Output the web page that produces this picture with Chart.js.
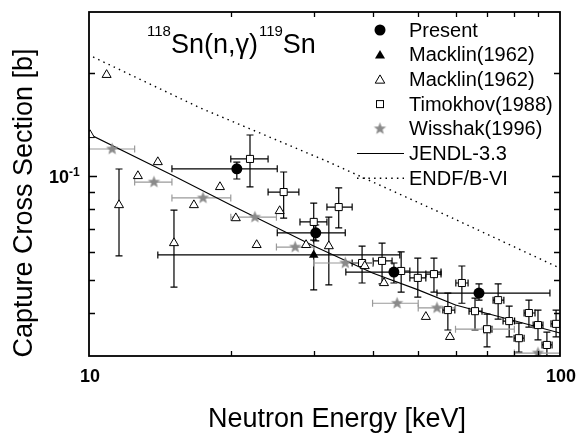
<!DOCTYPE html>
<html>
<head>
<meta charset="utf-8">
<script src="https://cdn.jsdelivr.net/npm/chart.js@4.4.1/dist/chart.umd.min.js"></script>
<style>
  html, body { margin: 0; padding: 0; background: #fff; }
  canvas { display: block; }
</style>
</head>
<body>
<canvas id="chart" width="581" height="434" style="width:581px;height:434px"></canvas>
<script>
// Present
const presentE = [20.6, 30.3, 44.4, 67.3];
const presentXS = [0.105, 0.0684, 0.0526, 0.0457];
const presentElo = [15.0, 25.1, 35.1, 54.8];
const presentEhi = [25.1, 35.0, 55.9, 95.2];
const presentXSlo = [0.0981, 0.0648, 0.0489, 0.0436];
const presentXShi = [0.1099, 0.0721, 0.0559, 0.0486];

// Macklin(1962), filled triangle
const macklinAE = [30.0];
const macklinAXS = [0.059];
const macklinAElo = [14.0];
const macklinAEhi = [45.7];
const macklinAXSlo = [0.0467];
const macklinAXShi = [0.0721];

// Macklin(1962), open triangles (null = no error bar)
const macklinBE = [10.05, 10.9, 11.58, 12.7, 14.0, 15.15, 16.7, 18.97, 20.5, 22.7, 25.4, 28.9, 32.3, 38.5, 42.3, 51.9, 58.4];
const macklinBXS = [0.1317, 0.197, 0.0824, 0.1001, 0.1099, 0.0639, 0.0824, 0.0930, 0.0755, 0.0631, 0.0792, 0.0631, 0.0626, 0.0548, 0.0489, 0.0390, 0.0341];
const macklinBXSlo = [null, null, 0.0586, null, null, 0.0476, null, null, null, null, null, null, 0.0483, null, null, null, null];
const macklinBXShi = [null, null, 0.1049, null, null, 0.0797, null, null, null, null, null, null, 0.0760, null, null, null, null];

// Timokhov(1988)
const timokhovE = [21.97, 25.9, 33.9, 30.0, 38.0, 41.9, 46.0, 49.9, 54.0, 61.9, 57.8, 66.0, 70.0, 73.9, 78.0, 81.8, 85.9, 89.8, 93.8, 98.1];
const timokhovXS = [0.1122, 0.0899, 0.0813, 0.0736, 0.0559, 0.0567, 0.0530, 0.0506, 0.0519, 0.0489, 0.0408, 0.0405, 0.0359, 0.0436, 0.0379, 0.0338, 0.0400, 0.0369, 0.0323, 0.0372];
const timokhovElo = [20.0, 24.0, 32.0, 28.05, 36.2, 40.1, 44.0, 48.0, 51.9, 60.1, 56.4, 64.1, 69.0, 72.1, 75.7, 79.9, 83.9, 87.7, 91.6, 95.7];
const timokhovEhi = [24.0, 27.9, 36.2, 32.0, 40.1, 44.0, 48.0, 51.9, 55.9, 63.8, 59.8, 68.3, 71.7, 76.0, 80.1, 83.9, 88.5, 92.0, 96.2, 100];
const timokhovXSlo = [0.0930, 0.0755, 0.0707, 0.0652, 0.0489, 0.0486, 0.0460, 0.0445, 0.0460, 0.0427, 0.0357, 0.0357, 0.0319, 0.0384, 0.0341, 0.0308, 0.0364, 0.0334, 0.0300, 0.0341];
const timokhovXShi = [0.1317, 0.1028, 0.0924, 0.0835, 0.0626, 0.0639, 0.0602, 0.0578, 0.0578, 0.0548, 0.0457, 0.0442, 0.0397, 0.0486, 0.0419, 0.0374, 0.0436, 0.0408, 0.0352, 0.0408];

// Wisshak(1996)
const wisshakE = [11.2, 13.74, 17.46, 22.5, 27.4, 35.0, 45.1, 54.8, 70.0, 89.8];
const wisshakXS = [0.1199, 0.0961, 0.0864, 0.0760, 0.0622, 0.0559, 0.0427, 0.0414, 0.0359, 0.0306];
const wisshakElo = [10, 12.5, 15, 20, 25, 30, 40, 50, 60, 80];
const wisshakEhi = [12.5, 15, 20, 25, 30, 40, 50, 60, 80, 100];

// evaluations
const jendlE = [10, 15, 20, 30, 40, 50, 60, 80, 100];
const jendlXS = [0.1325, 0.1008, 0.0824, 0.0626, 0.0523, 0.0467, 0.0422, 0.0380, 0.0350];
const endfE = [10.2, 17.2, 31.9, 58.4, 100];
const endfXS = [0.222, 0.158, 0.1107, 0.0761, 0.054];

// axes
const xMinorTicks = [20, 30, 40, 50, 60, 70, 80, 90];
const yMinorTicks = [0.04, 0.05, 0.06, 0.07, 0.08, 0.09, 0.1, 0.2];
const xTickLabels = [10, 100];
const yTickLabels = [0.1];

const FONT = '"Liberation Sans", Arial, Helvetica, sans-serif';
const GRAY = '#8a8a8a';

function pts(xs, ys) {
  return xs.map((x, i) => ({ x: x, y: ys[i] }));
}

function bars(n, elo, ehi, ylo, yhi) {
  const out = [];
  for (let i = 0; i < n; i++) {
    out.push({
      xlo: elo ? elo[i] : null, xhi: ehi ? ehi[i] : null,
      ylo: ylo ? ylo[i] : null, yhi: yhi ? yhi[i] : null
    });
  }
  return out;
}

function makeStar(r, color) {
  const c = document.createElement('canvas');
  const s = Math.ceil(r * 2 + 2);
  c.width = s; c.height = s;
  const g = c.getContext('2d');
  g.fillStyle = color;
  g.beginPath();
  for (let k = 0; k < 10; k++) {
    const rr = k % 2 ? r * 0.42 : r;
    const ang = -Math.PI / 2 + k * Math.PI / 5;
    g.lineTo(s / 2 + rr * Math.cos(ang), s / 2 + rr * Math.sin(ang));
  }
  g.closePath();
  g.fill();
  return c;
}
const starImg = makeStar(6.5, GRAY);

// error bars, drawn under the markers
const errorBars = {
  id: 'errorBars',
  beforeDatasetsDraw(chart) {
    const ctx = chart.ctx, a = chart.chartArea;
    const xs = chart.scales.x, ys = chart.scales.y;
    const cap = 3.5;
    ctx.save();
    ctx.beginPath();
    ctx.rect(a.left, a.top, a.right - a.left, a.bottom - a.top);
    ctx.clip();
    chart.data.datasets.forEach(ds => {
      if (!ds.err) return;
      ctx.strokeStyle = ds.errColor || '#000';
      ctx.lineWidth = 1.2;
      ds.err.forEach((e, i) => {
        const px = xs.getPixelForValue(ds.data[i].x);
        const py = ys.getPixelForValue(ds.data[i].y);
        ctx.beginPath();
        if (e.xlo != null) {
          const x1 = xs.getPixelForValue(e.xlo), x2 = xs.getPixelForValue(e.xhi);
          ctx.moveTo(x1, py); ctx.lineTo(x2, py);
          ctx.moveTo(x1, py - cap); ctx.lineTo(x1, py + cap);
          ctx.moveTo(x2, py - cap); ctx.lineTo(x2, py + cap);
        }
        if (e.ylo != null) {
          const y1 = ys.getPixelForValue(e.ylo), y2 = ys.getPixelForValue(e.yhi);
          ctx.moveTo(px, y1); ctx.lineTo(px, y2);
          ctx.moveTo(px - cap, y1); ctx.lineTo(px + cap, y1);
          ctx.moveTo(px - cap, y2); ctx.lineTo(px + cap, y2);
        }
        ctx.stroke();
      });
    });
    ctx.restore();
  }
};

const legendRows = [
  { label: 'Present', kind: 'circle' },
  { label: 'Macklin(1962)', kind: 'triFilled' },
  { label: 'Macklin(1962)', kind: 'triOpen' },
  { label: 'Timokhov(1988)', kind: 'square' },
  { label: 'Wisshak(1996)', kind: 'star' },
  { label: 'JENDL-3.3', kind: 'line' },
  { label: 'ENDF/B-VI', kind: 'dots' }
];

function triangle(ctx, x, y, r) {
  ctx.beginPath();
  for (let k = 0; k < 3; k++) {
    const ang = k * 2 * Math.PI / 3;
    ctx.lineTo(x + Math.sin(ang) * r, y - Math.cos(ang) * r);
  }
  ctx.closePath();
}

// frame, inward ticks, labels, title, legend
const decor = {
  id: 'decor',
  afterDraw(chart) {
    const ctx = chart.ctx, a = chart.chartArea;
    const xs = chart.scales.x, ys = chart.scales.y;
    ctx.save();
    ctx.strokeStyle = '#000';
    ctx.fillStyle = '#000';

    ctx.lineWidth = 1.3;
    ctx.beginPath();
    xMinorTicks.forEach(v => {
      const p = Math.round(xs.getPixelForValue(v)) + 0.5;
      ctx.moveTo(p, a.bottom); ctx.lineTo(p, a.bottom - 5);
      ctx.moveTo(p, a.top); ctx.lineTo(p, a.top + 5);
    });
    yMinorTicks.forEach(v => {
      const p = Math.round(ys.getPixelForValue(v)) + 0.5;
      const len = Math.abs(v - 0.1) < 1e-9 ? 8 : 6;
      ctx.moveTo(a.left, p); ctx.lineTo(a.left + len, p);
      ctx.moveTo(a.right, p); ctx.lineTo(a.right - len, p);
    });
    ctx.stroke();

    ctx.lineWidth = 1.8;
    ctx.strokeRect(a.left, a.top, a.right - a.left, a.bottom - a.top);

    // tick labels
    ctx.textBaseline = 'alphabetic';
    ctx.font = 'bold 18px ' + FONT;
    ctx.textAlign = 'center';
    xTickLabels.forEach(v => {
      ctx.fillText(String(v), xs.getPixelForValue(v) + 1, a.bottom + 26);
    });
    yTickLabels.forEach(v => {
      const p = ys.getPixelForValue(v);
      const ex = Math.round(Math.log10(v));
      ctx.font = 'bold 18px ' + FONT;
      ctx.textAlign = 'right';
      ctx.fillText('10', a.left - 20, p + 6.5);
      ctx.font = 'bold 12px ' + FONT;
      ctx.textAlign = 'left';
      ctx.fillText(String(ex), a.left - 20, p - 0.5);
    });

    // axis titles
    ctx.font = '27px ' + FONT;
    ctx.textAlign = 'center';
    ctx.fillText('Neutron Energy [keV]', 337, 427);
    ctx.save();
    ctx.translate(32, 203);
    ctx.rotate(-Math.PI / 2);
    ctx.fillText('Capture Cross Section [b]', 0, 0);
    ctx.restore();

    // reaction title
    ctx.textAlign = 'left';
    let tx = 147;
    const parts = [['118', 15, 36], ['Sn(n,\u03b3)', 27, 53], ['119', 15, 36], ['Sn', 27, 53]];
    parts.forEach(([s, size, base]) => {
      ctx.font = size + 'px ' + FONT;
      ctx.fillText(s, tx, base);
      tx += ctx.measureText(s).width + (size < 20 ? 0 : 1);
    });

    // legend
    const sx = 380, lx = 409;
    ctx.font = '20px ' + FONT;
    legendRows.forEach((row, i) => {
      const y = 30 + i * 24.7;
      ctx.fillStyle = '#000';
      ctx.strokeStyle = '#000';
      ctx.lineWidth = 1;
      if (row.kind === 'circle') {
        ctx.beginPath(); ctx.arc(sx, y, 5.5, 0, Math.PI * 2); ctx.fill();
      } else if (row.kind === 'triFilled') {
        triangle(ctx, sx, y + 1, 5.8); ctx.fill();
      } else if (row.kind === 'triOpen') {
        triangle(ctx, sx, y + 1, 5.5); ctx.fillStyle = '#fff'; ctx.fill(); ctx.stroke();
      } else if (row.kind === 'square') {
        ctx.fillStyle = '#fff';
        ctx.fillRect(sx - 3.5, y - 3.5, 7, 7);
        ctx.strokeRect(sx - 3.5, y - 3.5, 7, 7);
      } else if (row.kind === 'star') {
        ctx.drawImage(starImg, sx - starImg.width / 2, y - starImg.height / 2);
      } else if (row.kind === 'line') {
        ctx.lineWidth = 1.1;
        ctx.beginPath(); ctx.moveTo(357, y); ctx.lineTo(404, y); ctx.stroke();
      } else if (row.kind === 'dots') {
        ctx.lineWidth = 1.4;
        ctx.setLineDash([1.5, 4.2]);
        ctx.beginPath(); ctx.moveTo(357, y); ctx.lineTo(404, y); ctx.stroke();
        ctx.setLineDash([]);
      }
      ctx.fillStyle = '#000';
      ctx.textBaseline = 'middle';
      ctx.fillText(row.label, lx, y + 1);
    });
    ctx.restore();
  }
};

new Chart(document.getElementById('chart'), {
  type: 'scatter',
  data: {
    datasets: [
      {
        label: 'Present',
        data: pts(presentE, presentXS),
        err: bars(presentE.length, presentElo, presentEhi, presentXSlo, presentXShi),
        pointStyle: 'circle', pointRadius: 5.5,
        backgroundColor: '#000', borderColor: '#000', borderWidth: 0, clip: 0
      },
      {
        label: 'Macklin(1962)',
        data: pts(macklinAE, macklinAXS),
        err: bars(macklinAE.length, macklinAElo, macklinAEhi, macklinAXSlo, macklinAXShi),
        pointStyle: 'triangle', pointRadius: 5.5,
        backgroundColor: '#000', borderColor: '#000', borderWidth: 0, clip: 0
      },
      {
        label: 'Macklin(1962)',
        data: pts(macklinBE, macklinBXS),
        err: bars(macklinBE.length, null, null, macklinBXSlo, macklinBXShi),
        pointStyle: 'triangle', pointRadius: 5.2,
        backgroundColor: '#fff', borderColor: '#000', borderWidth: 1, clip: 0
      },
      {
        label: 'Timokhov(1988)',
        data: pts(timokhovE, timokhovXS),
        err: bars(timokhovE.length, timokhovElo, timokhovEhi, timokhovXSlo, timokhovXShi),
        pointStyle: 'rect', pointRadius: 5,
        backgroundColor: '#fff', borderColor: '#000', borderWidth: 1, clip: 0
      },
      {
        label: 'Wisshak(1996)',
        data: pts(wisshakE, wisshakXS),
        err: bars(wisshakE.length, wisshakElo, wisshakEhi, null, null),
        errColor: '#9a9a9a',
        pointStyle: starImg, pointRadius: 6.5,
        backgroundColor: GRAY, borderColor: GRAY, clip: 0
      },
      {
        label: 'JENDL-3.3',
        data: pts(jendlE, jendlXS),
        showLine: true, pointRadius: 0,
        borderColor: '#000', borderWidth: 1.1, fill: false
      },
      {
        label: 'ENDF/B-VI',
        data: pts(endfE, endfXS),
        showLine: true, pointRadius: 0,
        borderColor: '#000', borderWidth: 1.4, borderDash: [1.5, 4.2], fill: false
      }
    ]
  },
  options: {
    responsive: false,
    animation: false,
    devicePixelRatio: 1,
    events: [],
    layout: { padding: { left: 89, right: 21, top: 12, bottom: 78 } },
    plugins: {
      legend: { display: false },
      tooltip: { enabled: false }
    },
    scales: {
      x: { type: 'logarithmic', min: 10, max: 100, display: false },
      y: { type: 'logarithmic', min: 0.03, max: 0.3, display: false }
    }
  },
  plugins: [errorBars, decor]
});
</script>
</body>
</html>
